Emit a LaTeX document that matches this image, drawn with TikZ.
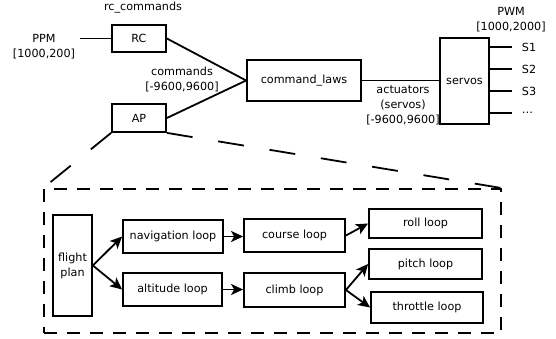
\documentclass[tikz,border=0pt]{standalone}
\usepackage{fontspec}
\setmainfont{DejaVu Sans}
\usetikzlibrary{arrows.meta,positioning,calc}

\begin{document}
\begin{tikzpicture}[x=1pt,y=-1pt,line width=1.8pt,
    every node/.style={font=\fontsize{11.2}{15}\selectfont,align=center},
    blk/.style={draw,inner sep=0pt},
    lbl/.style={inner sep=1pt},
    flow/.style={-{Stealth[length=12pt,width=11pt,inset=3pt]}}]
    \useasboundingbox (0,0) rectangle (556,339);
    % top row
    \node[blk,minimum width=54,minimum height=27] (rc) at (139,38.5) {RC};
    \node[blk,minimum width=54,minimum height=28] (ap) at (139,118) {AP};
    \node[blk,minimum width=114,minimum height=41] (laws) at (304,80.5) {command\_laws};
    \node[blk,minimum width=49,minimum height=86] (servos) at (464.5,81) {servos};
    \node[lbl] (rccmd) at (143,8) {rc\_commands};
    \node[lbl] (ppm) at (44,46.5) {PPM\\{}[1000,200]};
    \node[lbl] (cmds) at (182,79) {commands\\{}[-9600,9600]};
    \node[lbl] (act) at (403,105) {actuators\\(servos)\\{}[-9600,9600]};
    \node[lbl] (pwm) at (511,19.5) {PWM\\{}[1000,2000]};
    \draw ($(ppm.east |- rc)+(3,0)$) -- (rc.west);
    \draw (rc.east) -- (laws.west);
    \draw (ap.east) -- (laws.west);
    \draw (laws.east) -- (laws.east -| servos.west);
    \foreach \n/\y/\t in {1/47/S1,2/69/S2,3/91/S3,4/113/\dots}{
      \coordinate (o\n) at (512,\y);
      \node[lbl,anchor=west] (s\n) at (520,\y) {\t};
      \draw (servos.east |- o\n) -- (o\n);
    }
    % flight control system
    \node[draw,dash pattern=on 13pt off 10pt,minimum width=457,minimum height=144] (fcs) at (272.5,261) {};
    \draw[dash pattern=on 26pt off 26pt] (ap.south west) -- (fcs.north west);
    \draw[dash pattern=on 26pt off 26pt] (ap.south east) -- (fcs.north east);
    \node[blk,minimum width=39,minimum height=101] (plan) at (72.5,265.5) {flight\\plan};
    \node[blk,minimum width=100,minimum height=33] (nav) at (173,236.5) {navigation loop};
    \node[blk,minimum width=99,minimum height=33] (alt) at (172.5,289.5) {altitude loop};
    \node[blk,minimum width=101,minimum height=33] (course) at (294.5,235.5) {course loop};
    \node[blk,minimum width=101,minimum height=34] (climb) at (294.5,290) {climb loop};
    \node[blk,minimum width=113,minimum height=29] (roll) at (425.5,223.5) {roll loop};
    \node[blk,minimum width=113,minimum height=30] (pitch) at (425.5,264) {pitch loop};
    \node[blk,minimum width=112,minimum height=31] (throttle) at (427,307.5) {throttle loop};
    \foreach \x/\y in {plan/nav,plan/alt,course/roll,climb/pitch,climb/throttle}{\draw[flow] (\x.east) -- (\y.west);}
    \foreach \x/\y in {nav/course,alt/climb}{\draw[flow] (\x.east) -- (\x.east -| \y.west);}
  \end{tikzpicture}
\end{document}
